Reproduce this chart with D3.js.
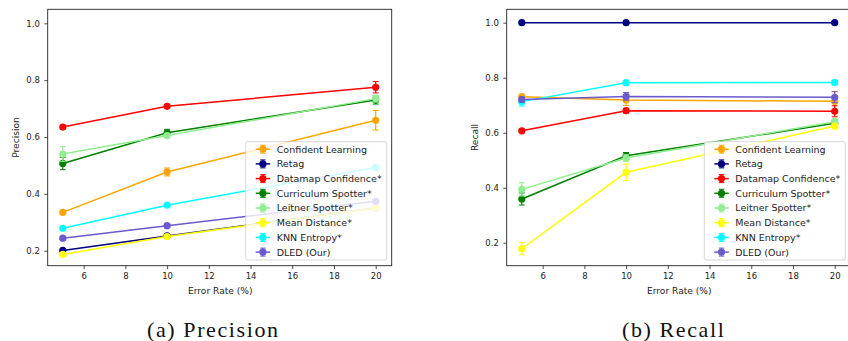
<!DOCTYPE html>
<html>
<head>
<meta charset="utf-8">
<script src="https://cdn.jsdelivr.net/npm/d3@7"></script>
<style>
  body { margin: 0; background: #fff; }
</style>
</head>
<body>
<div id="app"></div>
<script>
const errorRates = [5, 10, 20]
const xTicks = [6, 8, 10, 12, 14, 16, 18, 20]
const yTicks = [0.2, 0.4, 0.6, 0.8, 1.0]

const methods = [
  'Confident Learning', 'Retag', 'Datamap Confidence*', 'Curriculum Spotter*',
  'Leitner Spotter*', 'Mean Distance*', 'KNN Entropy*', 'DLED (Our)'
]
const colors = ['orange', 'navy', 'red', 'green', 'lightgreen', 'yellow', 'cyan', 'slateblue']

// precision per method at 5 / 10 / 20 %
const precision = [
  [0.335, 0.477, 0.659],
  [0.201, 0.252, 0.350],
  [0.635, 0.708, 0.775],
  [0.507, 0.615, 0.730],
  [0.540, 0.605, 0.735],
  [0.187, 0.250, 0.350],
  [0.279, 0.360, 0.493],
  [0.244, 0.288, 0.374]
]
const precisionErr = [
  [0.006, 0.014, 0.034],
  [0.004, 0.004, 0.004],
  [0.006, 0.006, 0.020],
  [0.022, 0.012, 0.014],
  [0.026, 0.008, 0.012],
  [0.006, 0.006, 0.006],
  [0.005, 0.005, 0.005],
  [0.005, 0.005, 0.005]
]

const recall = [
  [0.731, 0.719, 0.714],
  [1.0, 1.0, 1.0],
  [0.607, 0.680, 0.678],
  [0.359, 0.516, 0.634],
  [0.394, 0.508, 0.640],
  [0.178, 0.456, 0.624],
  [0.713, 0.782, 0.783],
  [0.721, 0.732, 0.729]
]
const recallErr = [
  [0.008, 0.020, 0.036],
  [0.003, 0.003, 0.003],
  [0.006, 0.008, 0.020],
  [0.022, 0.012, 0.012],
  [0.024, 0.012, 0.010],
  [0.022, 0.030, 0.010],
  [0.016, 0.006, 0.006],
  [0.008, 0.014, 0.020]
]

const FONT = '"DejaVu Sans", Verdana, sans-serif'
const W = 848, H = 341
const svg = d3.select('#app').append('svg').attr('width', W).attr('height', H)
  .style('display', 'block')

const panels = [
  {
    values: precision, errs: precisionErr, ylabel: 'Precision', caption: '(a) Precision',
    box: { x0: 47.7, x1: 391.7, y0: 9.3, y1: 265.7 },
    xr: [62.8, 375.7], yr: [250.7, 23.3],
    legend: { x: 245.7, y: 141.7, w: 141, h: 118.3 },
    capX: 213.3
  },
  {
    values: recall, errs: recallErr, ylabel: 'Recall', caption: '(b) Recall',
    box: { x0: 506.7, x1: 850.7, y0: 9.3, y1: 265.7 },
    xr: [521.8, 834.7], yr: [242.7, 22.7],
    legend: { x: 704.3, y: 141.7, w: 141, h: 118.3 },
    capX: 673.7
  }
]

panels.forEach((p) => drawPanel(p))

function drawPanel(p) {
  const x = d3.scaleLinear().domain([5, 20]).range(p.xr)
  const y = d3.scaleLinear().domain([0.2, 1.0]).range(p.yr)
  const g = svg.append('g')
  const b = p.box

  const clipId = 'clip' + Math.round(b.x0)
  g.append('clipPath').attr('id', clipId)
    .append('rect').attr('x', b.x0).attr('y', b.y0)
    .attr('width', b.x1 - b.x0).attr('height', b.y1 - b.y0)

  const plot = g.append('g').attr('clip-path', `url(#${clipId})`)
  const line = d3.line().x((d) => x(d.x)).y((d) => y(d.y))

  methods.forEach((m, i) => {
    const pts = errorRates.map((r, j) => ({ x: r, y: p.values[i][j], e: p.errs[i][j] }))
    const s = plot.append('g')
    s.append('path').datum(pts).attr('d', line)
      .attr('fill', 'none').attr('stroke', colors[i]).attr('stroke-width', 1.5)
    const eb = s.selectAll('g.eb').data(pts).join('g')
    eb.append('line')
      .attr('x1', (d) => x(d.x)).attr('x2', (d) => x(d.x))
      .attr('y1', (d) => y(d.y - d.e)).attr('y2', (d) => y(d.y + d.e))
      .attr('stroke', colors[i]).attr('stroke-width', 1.2)
    ;[-1, 1].forEach((k) => {
      eb.append('line')
        .attr('x1', (d) => x(d.x) - 3).attr('x2', (d) => x(d.x) + 3)
        .attr('y1', (d) => y(d.y + k * d.e)).attr('y2', (d) => y(d.y + k * d.e))
        .attr('stroke', colors[i]).attr('stroke-width', 1)
    })
    s.selectAll('circle').data(pts).join('circle')
      .attr('cx', (d) => x(d.x)).attr('cy', (d) => y(d.y)).attr('r', 3.6)
      .attr('fill', colors[i])
  })

  // frame
  g.append('rect').attr('x', b.x0).attr('y', b.y0)
    .attr('width', b.x1 - b.x0).attr('height', b.y1 - b.y0)
    .attr('fill', 'none').attr('stroke', '#222').attr('stroke-width', 0.9)

  const xAxis = g.append('g').attr('transform', `translate(0,${b.y1})`)
    .call(d3.axisBottom(x).tickValues(xTicks).tickSize(3.4).tickPadding(3.5).tickFormat(d3.format('d')))
  const yAxis = g.append('g').attr('transform', `translate(${b.x0},0)`)
    .call(d3.axisLeft(y).tickValues(yTicks).tickSize(3.4).tickPadding(4.5).tickFormat(d3.format('.1f')))
  ;[xAxis, yAxis].forEach((a) => {
    a.attr('font-family', FONT).attr('font-size', 8.5)
    a.select('.domain').remove()
    a.selectAll('line').attr('stroke', '#222').attr('stroke-width', 0.8)
    a.selectAll('text').attr('fill', '#222')
  })

  g.append('text')
    .attr('x', (p.xr[0] + p.xr[1]) / 2 + 1)
    .attr('y', 294).attr('text-anchor', 'middle')
    .attr('font-family', FONT).attr('font-size', 9.1).attr('fill', '#222')
    .text('Error Rate (%)')
  g.append('text').attr('transform', `translate(${b.x0 - 29},${(b.y0 + b.y1) / 2}) rotate(-90)`)
    .attr('text-anchor', 'middle')
    .attr('font-family', FONT).attr('font-size', 9.1).attr('fill', '#222')
    .text(p.ylabel)

  // legend
  const L = p.legend
  const lg = g.append('g')
  lg.append('rect').attr('x', L.x).attr('y', L.y).attr('width', L.w).attr('height', L.h)
    .attr('rx', 2).attr('fill', 'white').attr('fill-opacity', 0.8)
    .attr('stroke', '#ccc').attr('stroke-width', 0.8)
  methods.forEach((m, i) => {
    const cy = L.y + 7.5 + i * 14.7
    const hx = L.x + 10
    lg.append('line').attr('x1', hx).attr('x2', hx + 14.5).attr('y1', cy).attr('y2', cy)
      .attr('stroke', colors[i]).attr('stroke-width', 1.5)
    lg.append('line').attr('x1', hx + 7.2).attr('x2', hx + 7.2).attr('y1', cy - 4).attr('y2', cy + 4)
      .attr('stroke', colors[i]).attr('stroke-width', 1)
    ;[-4, 4].forEach((k) => {
      lg.append('line').attr('x1', hx + 4.5).attr('x2', hx + 10).attr('y1', cy + k).attr('y2', cy + k)
        .attr('stroke', colors[i]).attr('stroke-width', 1)
    })
    lg.append('circle').attr('cx', hx + 7.2).attr('cy', cy).attr('r', 3.6).attr('fill', colors[i])
    lg.append('text').attr('x', L.x + 31).attr('y', cy + 3.4)
      .attr('font-family', FONT).attr('font-size', 9.5).attr('fill', '#222').text(m)
  })

  svg.append('text').attr('x', p.capX).attr('y', 337)
    .attr('text-anchor', 'middle')
    .attr('font-family', '"Liberation Serif", "DejaVu Serif", serif')
    .attr('font-size', 22).attr('letter-spacing', 1.6).attr('fill', '#111')
    .text(p.caption)
}
</script>
</body>
</html>
